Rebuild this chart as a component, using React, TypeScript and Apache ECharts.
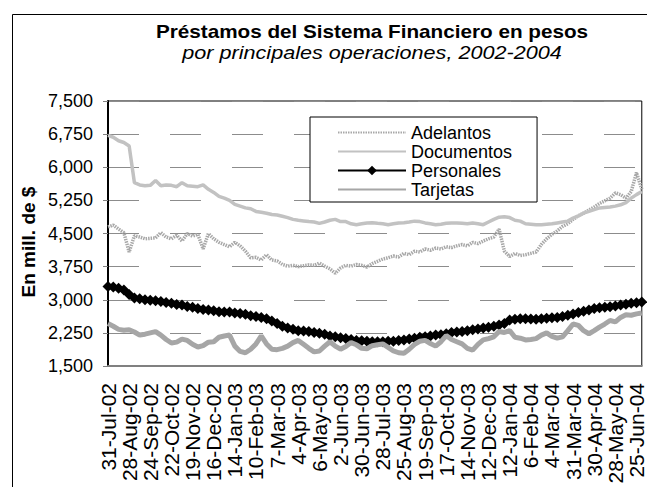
import React, { useEffect, useRef } from "react";
import * as echarts from "echarts";

const TITLE = "Préstamos del Sistema Financiero en pesos";
const SUBTITLE = "por principales operaciones, 2002-2004";
const Y_NAME = "En mill. de $";

const X_LABELS = [
  "31-Jul-02", "28-Aug-02", "24-Sep-02", "22-Oct-02", "19-Nov-02", "16-Dec-02",
  "14-Jan-03", "10-Feb-03", "7-Mar-03", "4-Apr-03", "6-May-03", "2-Jun-03",
  "30-Jun-03", "28-Jul-03", "25-Aug-03", "19-Sep-03", "17-Oct-03", "14-Nov-03",
  "12-Dec-03", "12-Jan-04", "6-Feb-04", "4-Mar-04", "31-Mar-04", "30-Apr-04",
  "28-May-04", "25-Jun-04",
];
const POINTS_PER_LABEL = 4;

const ADELANTOS = [
  4650, 4690, 4600, 4520, 4080, 4450, 4420, 4380, 4390, 4400, 4520,
  4420, 4380, 4460, 4330, 4500, 4440, 4480, 4150, 4500, 4380,
  4300, 4250, 4200, 4300, 4220, 4100, 3950, 3960, 3900, 4020, 3900,
  3880, 3800, 3760, 3780, 3750, 3770, 3790, 3780, 3830, 3760, 3700,
  3600, 3720, 3780, 3760, 3800, 3780, 3740, 3820, 3870, 3920, 3950,
  3990, 3970, 4050, 4020, 4100, 4080, 4150, 4120, 4170, 4150,
  4200, 4180, 4220, 4250, 4220, 4300, 4270, 4330, 4380, 4420, 4600,
  4100, 3980, 4050, 4000, 4020, 4050, 4080, 4250, 4380, 4480, 4560,
  4660, 4720, 4820, 4900, 4960, 5030, 5100, 5180, 5240, 5300, 5420,
  5380, 5300, 5450, 5880, 5500,
];

const DOCUMENTOS = [
  6720, 6680, 6600, 6560, 6480, 5650, 5600, 5580, 5590, 5700, 5580,
  5600, 5590, 5560, 5650, 5580, 5570, 5560, 5600, 5500, 5430,
  5340, 5300, 5250, 5160, 5120, 5080, 5060, 5000, 4980, 4960, 4930,
  4920, 4890, 4860, 4820, 4800, 4785, 4770, 4760, 4730, 4760, 4800,
  4820, 4770, 4770, 4720, 4700, 4720, 4740, 4745, 4730, 4720, 4700,
  4720, 4740, 4745, 4760, 4780, 4770, 4740, 4720, 4700, 4710,
  4730, 4740, 4735, 4730, 4720, 4740, 4720, 4700, 4760, 4820, 4870,
  4880, 4860, 4800, 4780, 4720, 4710, 4700, 4700, 4710, 4720, 4740,
  4760, 4780, 4850, 4900, 4960, 5000, 5040, 5080, 5090, 5100, 5120,
  5150, 5200, 5300, 5380, 5450,
];

const PERSONALES = [
  3300, 3290, 3260, 3220, 3120, 3040, 3020, 3000, 2990, 2980, 2960,
  2940, 2920, 2890, 2880, 2850, 2830, 2800, 2780, 2770, 2750,
  2730, 2725, 2720, 2700, 2690, 2670, 2640, 2620, 2600, 2570, 2520,
  2460, 2400, 2360, 2330, 2300, 2290, 2280, 2260, 2240, 2220, 2180,
  2160, 2140, 2120, 2100, 2080, 2070, 2060, 2050, 2050, 2050, 2060,
  2060, 2080, 2090, 2110, 2130, 2150, 2160, 2180, 2200, 2210,
  2230, 2260, 2270, 2280, 2300, 2320, 2340, 2360, 2380, 2400, 2430,
  2460, 2540, 2560, 2570, 2570, 2565, 2560, 2570, 2580, 2590, 2600,
  2620, 2650, 2680, 2710, 2740, 2770, 2800, 2820, 2830, 2840, 2860,
  2880, 2900, 2920, 2930, 2950,
];

const TARJETAS = [
  2460, 2400, 2330, 2310, 2320, 2270, 2200, 2220, 2250, 2280, 2200,
  2100, 2020, 2040, 2110, 2080, 1990, 1930, 1960, 2040, 2050,
  2150, 2180, 2200, 1950, 1830, 1800, 1880, 2000, 2180, 2000, 1880,
  1870, 1900, 1950, 2030, 2080, 1990, 1900, 1820, 1840, 1950, 2050,
  1950, 1880, 1940, 2030, 1980, 1900, 1890, 1960, 1980, 2000, 1920,
  1840, 1800, 1790, 1880, 1990, 2060, 2080, 2010, 1950, 2050,
  2190, 2100, 2050, 2000, 1900, 1860, 1990, 2090, 2120, 2160, 2280,
  2260, 2300, 2150, 2130, 2090, 2100, 2120, 2200, 2250, 2170, 2130,
  2160, 2300, 2450, 2420, 2300, 2230, 2300, 2380, 2450, 2530, 2500,
  2600, 2660, 2650, 2680, 2700,
];

const Y_MIN = 1500;
const Y_MAX = 7500;
const Y_STEP = 750;

const FONT = '"Liberation Sans", Arial, sans-serif';

export default function App() {
  const ref = useRef<HTMLDivElement>(null);

  useEffect(() => {
    if (!ref.current) return;
    document.body.style.margin = "0";
    const chart = echarts.init(ref.current, null, { renderer: "svg" });

    const n = PERSONALES.length;
    const categories: string[] = [];
    for (let i = 0; i < n; i++) {
      const k = Math.floor(i / POINTS_PER_LABEL);
      const lab = X_LABELS[k] ?? X_LABELS[X_LABELS.length - 1];
      categories.push(i % POINTS_PER_LABEL === 0 ? lab : `${lab}#${i % POINTS_PER_LABEL}`);
    }

    const hidden = { opacity: 0 };

    chart.setOption({
      animation: false,
      backgroundColor: "#ffffff",
      textStyle: { fontFamily: FONT },
      grid: {
        left: 108,
        top: 101,
        right: 2,
        bottom: 121,
        show: true,
        borderColor: "#000",
        borderWidth: 1,
        backgroundColor: "transparent",
      },
      legend: {
        orient: "vertical",
        left: 310,
        top: 117,
        padding: [6, 25, 3, 27],
        itemGap: 0,
        itemWidth: 68,
        itemHeight: 12,
        backgroundColor: "#fff",
        borderColor: "#000",
        borderWidth: 1,
        textStyle: { fontSize: 18, lineHeight: 19, color: "#000", fontFamily: FONT },
        data: [
          { name: "Adelantos", itemStyle: hidden },
          { name: "Documentos", itemStyle: hidden },
          { name: "Personales" },
          { name: "Tarjetas", itemStyle: hidden },
        ],
      },
      xAxis: {
        type: "category",
        data: categories,
        boundaryGap: false,
        axisLine: { lineStyle: { color: "#808080", width: 2 } },
        axisTick: { show: false },
        axisLabel: {
          interval: POINTS_PER_LABEL - 1,
          rotate: 90,
          margin: 17,
          fontSize: 21,
          color: "#000",
          fontFamily: FONT,
        },
        splitLine: { show: false },
      },
      yAxis: {
        type: "value",
        min: Y_MIN,
        max: Y_MAX,
        interval: Y_STEP,
        axisLine: { show: true, lineStyle: { color: "#000", width: 2 } },
        axisTick: { show: true, length: 5, lineStyle: { color: "#808080" } },
        axisLabel: {
          margin: 15,
          fontSize: 18,
          color: "#000",
          fontFamily: FONT,
          formatter: (v: number) => v.toLocaleString("en-US"),
        },
        splitLine: {
          show: true,
          lineStyle: { color: "#8c8c8c", width: 1, type: [31, 31] },
        },
      },
      graphic: [
        {
          type: "rect",
          left: 10,
          top: 12,
          shape: { width: 800, height: 600 },
          style: { fill: "none", stroke: "#000", lineWidth: 1 },
          z: -10,
          silent: true,
        },
        {
          type: "text",
          x: 372,
          y: 32,
          scaleX: 1.15,
          style: {
            text: TITLE,
            font: `bold 18px ${FONT}`,
            fill: "#000",
            align: "center",
            verticalAlign: "middle",
            textAlign: "center",
            textVerticalAlign: "middle",
          },
        },
        {
          type: "text",
          x: 372,
          y: 53,
          scaleX: 1.2,
          style: {
            text: SUBTITLE,
            font: `italic 18px ${FONT}`,
            fill: "#000",
            align: "center",
            verticalAlign: "middle",
            textAlign: "center",
            textVerticalAlign: "middle",
          },
        },
        {
          type: "text",
          x: 28,
          y: 242,
          rotation: Math.PI / 2,
          style: {
            text: Y_NAME,
            font: `bold 19px ${FONT}`,
            fill: "#000",
            align: "center",
            verticalAlign: "middle",
            textAlign: "center",
            textVerticalAlign: "middle",
          },
        },
      ],
      series: [
        {
          name: "Adelantos",
          type: "line",
          data: ADELANTOS,
          symbol: "none",
          color: "#a8a8a8",
          itemStyle: hidden,
          lineStyle: { color: "#a8a8a8", width: 3.5, type: [1.5, 1] },
          z: 2,
        },
        {
          name: "Documentos",
          type: "line",
          data: DOCUMENTOS,
          symbol: "none",
          color: "#c2c2c2",
          itemStyle: hidden,
          lineStyle: { color: "#c2c2c2", width: 3.5 },
          z: 3,
        },
        {
          name: "Personales",
          type: "line",
          data: PERSONALES,
          symbol: "diamond",
          symbolSize: 11,
          showAllSymbol: true,
          color: "#000",
          itemStyle: { color: "#000" },
          lineStyle: { color: "#000", width: 5 },
          z: 4,
        },
        {
          name: "Tarjetas",
          type: "line",
          data: TARJETAS,
          symbol: "none",
          color: "#a6a6a6",
          itemStyle: hidden,
          lineStyle: { color: "#a6a6a6", width: 5 },
          z: 5,
        },
      ],
    });

    return () => {
      chart.dispose();
    };
  }, []);

  return (
    <div
      ref={ref}
      style={{ position: "fixed", left: 0, top: 0, width: 647, height: 487, background: "#fff" }}
    />
  );
}
